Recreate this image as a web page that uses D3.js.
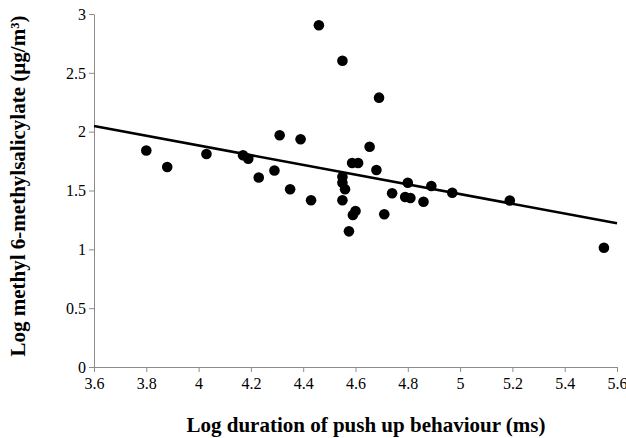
<!DOCTYPE html>
<html><head><meta charset="utf-8">
<script src="https://cdn.jsdelivr.net/npm/d3@7"></script>
<style>body{margin:0;background:#fff}svg{display:block}svg text{font-family:"Liberation Serif","Times New Roman",serif}</style>
</head><body><svg id="c" width="626" height="438"></svg>
<script>
const xValues = [3.80,3.88,4.03,4.17,4.19,4.23,4.29,4.31,4.35,4.39,4.43,4.46,4.55,4.55,4.55,4.55,4.56,4.575,4.59,4.60,4.587,4.61,4.654,4.68,4.69,4.71,4.74,4.79,4.80,4.81,4.86,4.89,4.97,5.19,5.55];
const yValues = [1.84,1.70,1.81,1.80,1.77,1.61,1.67,1.97,1.51,1.935,1.417,2.904,2.603,1.417,1.617,1.566,1.51,1.153,1.292,1.326,1.734,1.734,1.872,1.674,2.289,1.298,1.476,1.445,1.566,1.436,1.405,1.538,1.481,1.415,1.014];
const trendX = [3.6, 5.6];
const trendY = [2.048, 1.221];
const xTicks = [3.6,3.8,4.0,4.2,4.4,4.6,4.8,5.0,5.2,5.4,5.6];
const yTicks = [0,0.5,1,1.5,2,2.5,3];
const xTitle = "Log duration of push up behaviour (ms)";
const yTitle = "Log methyl 6-methylsalicylate (µg/m³)";

const svg = d3.select("#c");
const x = d3.scaleLinear().domain([3.6,5.6]).range([94,617]);
const y = d3.scaleLinear().domain([0,3]).range([367,14]);
const axisCol = "#8c8c8c";

const gx = svg.append("g").attr("transform","translate(0,367)")
  .call(d3.axisBottom(x).tickValues(xTicks).tickSize(5).tickSizeOuter(0).tickFormat(d3.format("")));
const gy = svg.append("g").attr("transform","translate(94,0)")
  .call(d3.axisLeft(y).tickValues(yTicks).tickSize(5).tickSizeOuter(0).tickFormat(d3.format("")));
[gx,gy].forEach(g=>{
  g.attr("font-family",null).attr("font-size",16);
  g.selectAll("path,line").attr("stroke",axisCol).attr("stroke-width",1);
  g.selectAll("text").attr("fill","#000").style("font-size","16px");
});
gx.selectAll("text").attr("y",8).attr("dy","0.9em");
gy.selectAll("text").attr("x",-8).attr("dy","0.33em");

svg.append("line")
  .attr("x1",x(trendX[0])).attr("y1",y(trendY[0]))
  .attr("x2",x(trendX[1])).attr("y2",y(trendY[1]))
  .attr("stroke","#000").attr("stroke-width",2.6);

svg.append("g").selectAll("circle").data(xValues.map((v,i)=>[v,yValues[i]])).join("circle")
  .attr("cx",d=>x(d[0])).attr("cy",d=>y(d[1])).attr("r",5.3).attr("fill","#000");

svg.append("text").attr("x",366).attr("y",432).attr("text-anchor","middle")
  .style("font-size","21px").style("font-weight","bold").text(xTitle);
svg.append("text").attr("transform","translate(25,186) rotate(-90)").attr("text-anchor","middle")
  .style("font-size","21px").style("font-weight","bold").text(yTitle);
</script></body></html>
